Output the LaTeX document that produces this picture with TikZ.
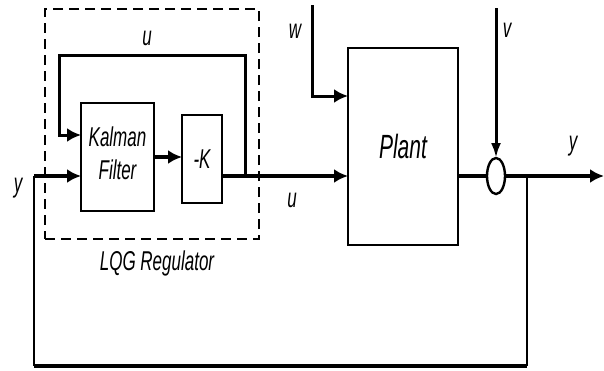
\documentclass[tikz,border=0pt]{standalone}
\usepackage{fontspec}
\setmainfont{Liberation Sans}
\usetikzlibrary{arrows.meta,shapes.geometric}
\newcommand\lab[2]{{\fontsize{#1}{#1}\selectfont\itshape\scalebox{1}[1.6]{#2}}}
\begin{document}
\begin{tikzpicture}[x=1pt,y=-1pt,
  blk/.style={draw,line width=2pt,inner sep=0pt,outer sep=0pt},
  sig/.style={line width=3.8pt},
  loopl/.style={line width=3pt},
  fbl/.style={line width=1.8pt},
  tip/.style={-{Latex[length=14pt,width=14pt]}},
  vtip/.style={-{Latex[length=15pt,width=10pt]}},
  txt/.style={inner sep=0pt}]
\useasboundingbox (0,0) rectangle (604,370);
% blocks
\node[draw,dashed,line width=2pt,dash pattern=on 10pt off 6pt,minimum width=214pt,minimum height=230pt,inner sep=0pt] (lqg) at (152,124) {};
\node[blk,minimum width=73pt,minimum height=108pt] (kal) at (117.5,157)
  {\lab{17}{\begin{tabular}{@{}c@{}}Kalman\\[3pt]Filter\end{tabular}}};
\node[blk,minimum width=40pt,minimum height=88pt] (negk) at (202,159) {\lab{17}{-K}};
\node[blk,minimum width=110pt,minimum height=197pt] (plant) at (403,146.5) {\lab{21}{Plant}};
\node[draw,ellipse,line width=2.4pt,minimum width=18pt,minimum height=36pt,inner sep=0pt,outer sep=0pt] (sum) at (496,176) {};
% coordinates
\coordinate (yin) at (34,176);
\coordinate (lvlA) at (0,135);
\coordinate (lvlW) at (0,96);
\coordinate (uj) at (245,176);
\coordinate (ul) at (59,55);
\coordinate (wtop) at (312,5);
\coordinate (vtop) at (496,8);
\coordinate (br) at (527,176);
\coordinate (yout) at (604,176);
\coordinate (bl) at (34,366);
\coordinate (brb) at (527,366);
% signals
\draw[sig,tip] (yin) -- (yin -| kal.west);
\draw[sig,tip] (kal.east) -- (kal.east -| negk.west);
\draw[sig,tip] (negk.east |- yin) -- (plant.west |- yin);
\draw[loopl,tip] (uj) |- (ul) |- (kal.west |- lvlA);
\draw[loopl,tip] (wtop) |- (plant.west |- lvlW);
\draw[sig] (plant.east |- yin) -- (sum.west);
\draw[sig,tip] (sum.east) -- (yout);
\draw[loopl,vtip] (vtop) -- (sum.north);
% feedback
\draw[fbl] (br) -- (brb);
\draw[fbl] (bl) -- (yin);
\draw[line width=4pt] (bl) -- (brb);
% labels
\node[txt] (lu1) at (147,38) {\lab{17}{u}};
\node[txt] (ly1) at (18,188) {\lab{17}{y}};
\node[txt] (lu2) at (292,200) {\lab{17}{u}};
\node[txt] (lw) at (295,31) {\lab{17}{w}};
\node[txt] (lv) at (507,30) {\lab{17}{v}};
\node[txt] (ly2) at (573,146) {\lab{17}{y}};
\node[txt] (llqg) at (157,263) {\lab{17}{LQG Regulator}};
\end{tikzpicture}
\end{document}
